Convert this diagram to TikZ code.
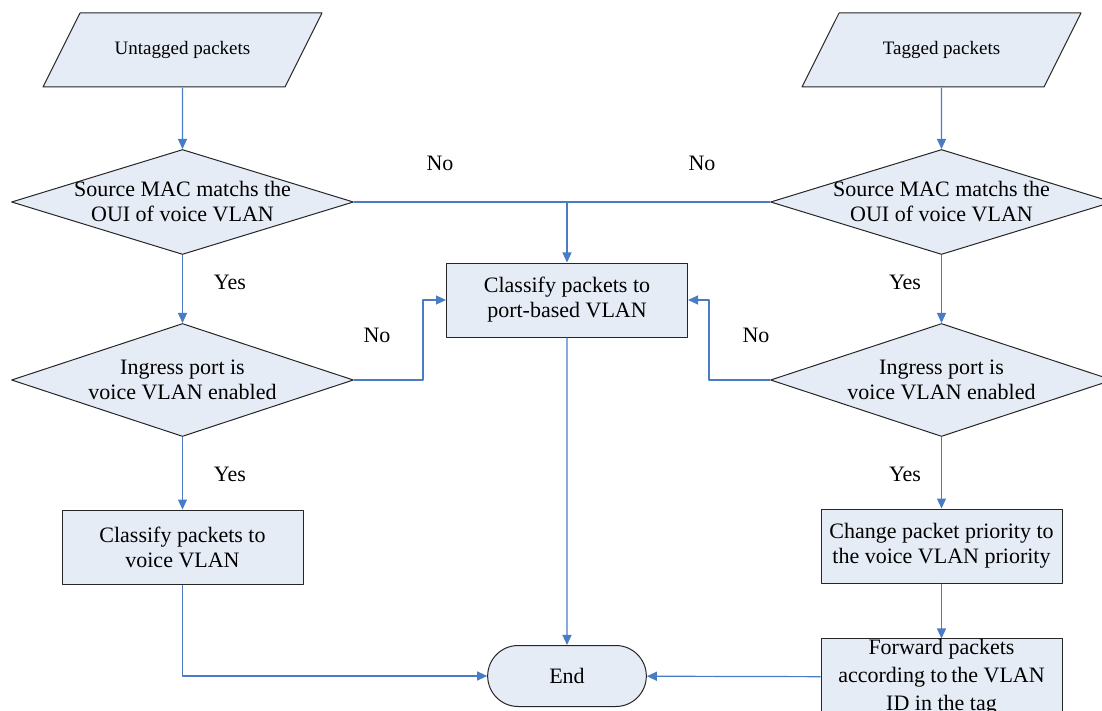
\documentclass[tikz,border=0pt]{standalone}
\usepackage{fontspec}
\setmainfont{Liberation Serif}
\usetikzlibrary{shapes.geometric,shapes.misc,arrows.meta}
\definecolor{boxfill}{HTML}{E6ECF6}
\definecolor{linkblue}{HTML}{4A7CC6}
\tikzset{
	proc/.style={draw=black!85, fill=boxfill, line width=.5pt, minimum width=120.5pt, minimum height=37pt, align=center, inner sep=0pt},
	decision/.style={diamond, draw=black!85, fill=boxfill, line width=.5pt, minimum width=171pt, minimum height=52.5pt, inner sep=0pt},
	dtext/.style={align=center, inner sep=0pt},
	io/.style={trapezium, trapezium left angle=63.4, trapezium right angle=116.6, trapezium stretches body, draw=black!85, fill=boxfill, line width=.5pt, text height=7pt, text depth=2pt, inner ysep=14pt, minimum width=139.5pt, font=\fontsize{9.5}{11}\selectfont},
	term/.style={rounded rectangle, draw=black!85, fill=boxfill, line width=.5pt, minimum width=86pt, minimum height=30.5pt},
	link/.style={draw=linkblue, line width=.6pt},
}
\begin{document}
\begin{tikzpicture}[x=.5pt, y=-.5pt, font=\fontsize{11}{12.5}\selectfont, line join=round, >={Triangle[length=5pt,width=4.5pt]}]
	\def\lx{182.5} \def\rx{941.5} \def\mx{567}
	\useasboundingbox (0,0) rectangle (1102,711);
	% inputs and tests
	\node[io] (untag) at (\lx,50) {Untagged packets};
	\node[io] (tag) at (\rx,50) {Tagged packets};
	\node[decision, label={[dtext]center:{Source MAC matchs the\\OUI of voice VLAN}}] (mac1) at (\lx,202) {};
	\node[decision, label={[dtext]center:{Source MAC matchs the\\OUI of voice VLAN}}] (mac2) at (\rx,202) {};
	\node[decision, minimum height=56.5pt, label={[dtext]center:{Ingress port is\\voice VLAN enabled}}] (ing1) at (\lx,380) {};
	\node[decision, minimum height=56.5pt, label={[dtext]center:{Ingress port is\\voice VLAN enabled}}] (ing2) at (\rx,380) {};
	% actions
	\node[proc] (port) at (\mx,300) {Classify packets to\\port-based VLAN};
	\node[proc] (voice) at (\lx,547) {Classify packets to\\voice VLAN};
	\node[proc] (prio) at (\rx,546) {Change packet priority to\\the voice VLAN priority};
	\node[proc, font=\fontsize{11}{14}\selectfont] (fwd) at (\rx,677) {Forward packets\\according to\,the VLAN\\ID in the tag};
	\node[term] (finish) at (\mx,676) {End};
	% answers
	\node (no1) at (440,163) {No};
	\node (no2) at (702,163) {No};
	\node (no3) at (377,335) {No};
	\node (no4) at (756,335) {No};
	\node (yes1) at (230,282) {Yes};
	\node (yes2) at (905,282) {Yes};
	\node (yes3) at (230,474) {Yes};
	\node (yes4) at (905,474) {Yes};

	\draw[link,->] (untag) -- (mac1);
	\draw[link,->] (tag) -- (mac2);
	\draw[link] (mac1.east) -- (mac2.west);
	\coordinate (junc) at (port |- mac1.east);
	\draw[link,->] (junc) -- (port);
	\draw[link,->] (mac1) -- (ing1);
	\draw[link,->] (mac2) -- (ing2);
	\draw[link,->] (ing1.east) -- ++(69,0) |- (port.west);
	\draw[link,->] (ing2.west) -- ++(-61,0) |- (port.east);
	\draw[link,->] (ing1) -- (voice);
	\draw[link,->] (ing2) -- (prio);
	\draw[link,->] (prio) -- (fwd);
	\draw[link,->] (voice) |- (finish);
	\draw[link,->] (port) -- (finish);
	\draw[link,->] (fwd) -- (finish);
\end{tikzpicture}
\end{document}
